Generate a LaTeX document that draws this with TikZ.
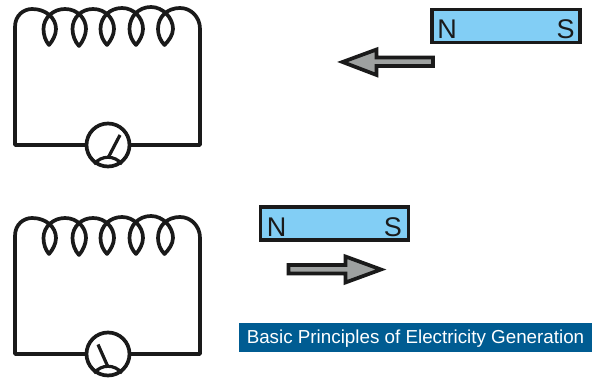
\documentclass[tikz,border=0pt]{standalone}
\usepackage{fontspec}
\setmainfont{Liberation Sans}
\definecolor{magblue}{HTML}{82CEF5}
\definecolor{arrgrey}{HTML}{9EA1A0}
\definecolor{bannerblue}{HTML}{005C92}
\definecolor{inkk}{HTML}{1A1A1A}
\tikzset{
  wire/.style={draw=inkk,line width=3.7pt,line join=round},
  magnet/.style={draw=inkk,fill=magblue,line width=3.9pt,minimum width=148pt,minimum height=33pt,inner sep=0pt,outer sep=0pt},
  pole/.style={text=inkk,font=\fontsize{27}{27}\selectfont,inner sep=0pt},
  meter/.style={circle,draw=inkk,line width=3.7pt,minimum size=43pt,inner sep=0pt,outer sep=0pt},
  movearrow/.style={draw=inkk,fill=arrgrey,line width=3.7pt,line join=miter},
  banner/.style={fill=bannerblue,text=white,minimum width=353pt,minimum height=29pt,inner sep=0pt,text height=14pt,text depth=1pt,font=\fontsize{18.8}{18.8}\selectfont}
}
\newcommand{\circuit}[3]{%
  \begin{scope}[yshift=#1]
    \node[meter] (#3) at (108,145) {};
    \coordinate (#3L) at (15,145);
    \coordinate (#3R) at (200,145);
    \draw[wire] (#3.west) -- (#3L) -- (15,27)
      .. controls (15,15) and (24,9) .. (32,9)
      .. controls (46,9) and (56,18) .. (56,29)
      .. controls (56,35) and (52.5,41) .. (49,45)
      .. controls (45.5,41) and (43.5,35) .. (43.5,29)
      .. controls (43.5,17) and (54,9) .. (65,9)
      .. controls (77,9) and (86,18) .. (86,29)
      .. controls (86,35) and (82.5,42) .. (79,46)
      .. controls (75,42) and (72.5,35) .. (72.5,29)
      .. controls (72.5,17) and (82,9) .. (93,9)
      .. controls (105,9) and (114,18) .. (114,29)
      .. controls (114,35) and (110.5,41) .. (107,45)
      .. controls (103,41) and (100.5,35) .. (100.5,29)
      .. controls (100.5,17) and (110,8) .. (122,8)
      .. controls (134,8) and (143,18) .. (143,29)
      .. controls (143,35) and (139.5,41) .. (136,45)
      .. controls (132,41) and (129.5,35) .. (129.5,29)
      .. controls (129.5,16) and (139,7) .. (151,7)
      .. controls (163,7) and (173,18) .. (173,29)
      .. controls (173,35) and (168.5,41) .. (164.5,45)
      .. controls (160.5,41) and (158,35) .. (158,29)
      .. controls (158,16) and (168,8) .. (180,8)
      .. controls (191,8) and (200,17) .. (200,29)
      -- (#3R) -- (#3.east);
    \draw[wire,line width=3.2pt] (94,164) .. controls (102,155) and (114,155) .. (122,164);
    \draw[wire,line width=3.2pt] (108,158) -- (#2);
  \end{scope}}
\begin{document}
\begin{tikzpicture}[x=1pt,y=-1pt]
\useasboundingbox (0,0) rectangle (592,379);
\circuit{0pt}{120,135}{mA}
\circuit{-209pt}{98,135.5}{mB}
\node[magnet] (m1) at (506,26) {};
\node[pole] (m1n) at (447,29) {N};
\node[pole] (m1s) at (565.5,29) {S};
\node[magnet] (m2) at (334.5,223.5) {};
\node[pole] (m2n) at (276.5,227) {N};
\node[pole] (m2s) at (393,227) {S};
\draw[movearrow] (433,57.5) -- (376.5,57.5) -- (376.5,49.5) -- (342.5,62) -- (376.5,75) -- (376.5,66) -- (433,66) -- cycle;
\draw[movearrow] (288.5,265) -- (345.5,265) -- (345.5,256.5) -- (381,269.5) -- (345.5,282.5) -- (345.5,273.5) -- (288.5,273.5) -- cycle;
\node[banner] (title) at (415.5,337.5) {Basic Principles of Electricity Generation};
\end{tikzpicture}
\end{document}
